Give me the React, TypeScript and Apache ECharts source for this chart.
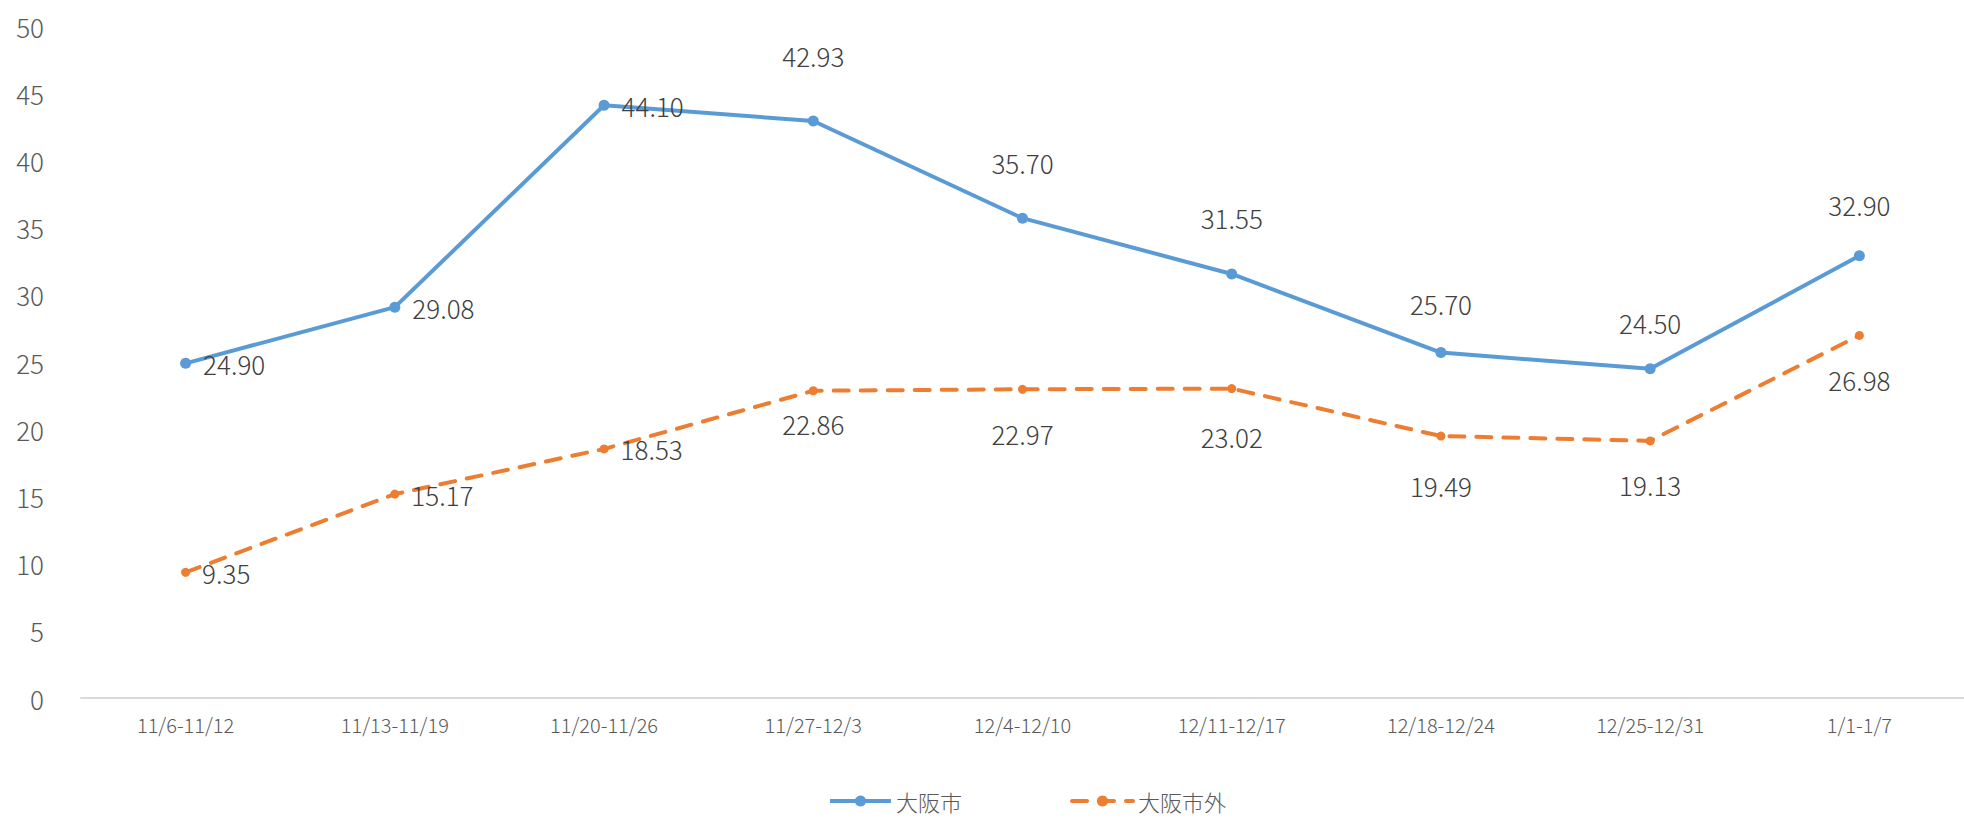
import React, { useEffect, useRef } from "react";
import * as echarts from "echarts";

const categories = ["11/6-11/12", "11/13-11/19", "11/20-11/26", "11/27-12/3", "12/4-12/10", "12/11-12/17", "12/18-12/24", "12/25-12/31", "1/1-1/7"];
const osakaCity = [24.9, 29.08, 44.1, 42.93, 35.7, 31.55, 25.7, 24.5, 32.9];
const outsideCity = [9.35, 15.17, 18.53, 22.86, 22.97, 23.02, 19.49, 19.13, 26.98];
const yTicks = { min: 0, max: 50, interval: 5 };

// label placement styles (per point)
const cityLabelPos = ["right", "right", "right", "above", "above", "above", "above", "above", "above"];
const cityLabelLift = [0, 0, 0, 66, 56, 56, 49, 46, 51];
const outLabelPos = ["right", "right", "right", "below", "below", "below", "below", "below", "below"];
const outLabelDrop = [0, 0, 0, 33, 44, 48, 49, 44, 44];

const FONT = "'Noto Sans CJK JP', 'Noto Sans', sans-serif";

function buildData(values: number[], pos: string[], shift: number[], sign: number) {
  return values.map((v, i) => {
    if (pos[i] === "right") {
      return { value: v, label: { position: "right", distance: 12 } };
    }
    return { value: v, label: { position: "inside", offset: [0, sign * shift[i]] } };
  });
}

export default function App() {
  const ref = useRef<HTMLDivElement>(null);
  useEffect(() => {
    if (!ref.current) return;
    const chart = echarts.init(ref.current, null, { renderer: "svg" });
    const labelStyle = {
      show: true,
      color: "#404040",
      fontSize: 26,
      fontWeight: 300,
      fontFamily: FONT,
      formatter: (p: any) => Number(p.value).toFixed(2),
    };
    chart.setOption({
      animation: false,
      backgroundColor: "#ffffff",
      textStyle: { fontFamily: FONT },
      grid: { left: 81, right: -3, top: 26, bottom: 120, containLabel: false },
      xAxis: {
        type: "category",
        data: categories,
        boundaryGap: true,
        axisLine: { show: true, lineStyle: { color: "#d9d9d9", width: 2 } },
        axisTick: { show: false },
        axisLabel: { color: "#595959", fontSize: 20, fontWeight: 300, fontFamily: FONT, margin: 16 },
        splitLine: { show: false },
      },
      yAxis: {
        type: "value",
        min: yTicks.min,
        max: yTicks.max,
        interval: yTicks.interval,
        axisLine: { show: false },
        axisTick: { show: false },
        splitLine: { show: false },
        axisLabel: { color: "#595959", fontSize: 26, fontWeight: 300, fontFamily: FONT, margin: 37, padding: [0, 0, 5, 0] },
      },
      legend: {
        bottom: 0,
        left: 823,
        padding: [0, 5, 4, 5],
        itemWidth: 61,
        itemHeight: 14,
        itemGap: 108,
        lineStyle: { width: 4 },
        textStyle: { color: "#595959", fontSize: 22, fontWeight: 300, fontFamily: FONT, lineHeight: 26 },
        data: ["大阪市", "大阪市外"],
      },
      series: [
        {
          name: "大阪市",
          type: "line",
          data: buildData(osakaCity, cityLabelPos, cityLabelLift, -1),
          symbol: "circle",
          symbolSize: 11,
          lineStyle: { color: "#5B9BD5", width: 4 },
          itemStyle: { color: "#5B9BD5" },
          label: labelStyle,
          z: 3,
        },
        {
          name: "大阪市外",
          type: "line",
          data: buildData(outsideCity, outLabelPos, outLabelDrop, 1),
          symbol: "circle",
          symbolSize: 9,
          lineStyle: { color: "#ED7D31", width: 4, type: [15, 12], cap: "round" },
          itemStyle: { color: "#ED7D31" },
          label: labelStyle,
          z: 2,
        },
      ],
    });
    return () => chart.dispose();
  }, []);
  return (
    <div
      ref={ref}
      style={{ position: "fixed", left: 0, top: 0, width: 1964, height: 818, background: "#fff" }}
    />
  );
}
